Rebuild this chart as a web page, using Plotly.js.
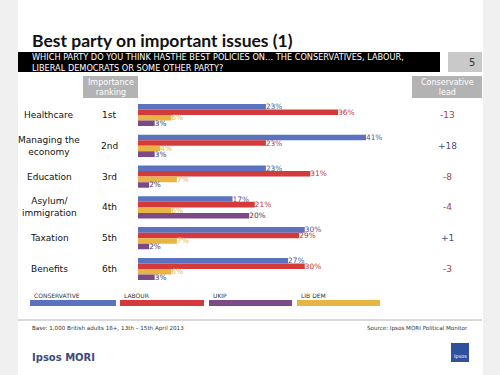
<!DOCTYPE html>
<html>
<head>
<meta charset="utf-8">
<script src="https://cdn.plot.ly/plotly-3.0.1.min.js"></script>
<style>html,body{margin:0;padding:0;background:#f0f0f0;}#chart{width:500px;height:375px;}</style>
</head>
<body>
<div id="chart"></div>
<script>
// ---- data ----
const issues = ["Healthcare", "Managing the<br>economy", "Education", "Asylum/<br>immigration", "Taxation", "Benefits"];
const ranks = ["1st", "2nd", "3rd", "4th", "5th", "6th"];
const conservative = [23, 41, 23, 17, 30, 27];
const labour = [36, 23, 31, 21, 29, 30];
const libdem = [6, 4, 7, 6, 7, 6];
const ukip = [3, 3, 2, 20, 2, 3];
const conLead = ["-13", "+18", "-8", "-4", "+1", "-3"];
const legendNames = ["CONSERVATIVE", "LABOUR", "UKIP", "LIB DEM"];

// ---- styling ----
const W = 500, H = 375;
const px = v => v / W;
const py = v => 1 - v / H;
const FONT = "DejaVu Sans, sans-serif";
const colors = {con: "#5b73bf", lab: "#d43a3a", ld: "#e8b443", ukip: "#7b4a87"};
const txtColors = {con: "#4a5a92", lab: "#c83030", ld: "#e3b54c", ukip: "#3c3c5c"};

function barTrace(name, vals, key) {
  return {
    type: "bar", orientation: "h", name: name,
    x: vals, y: issues,
    marker: {color: colors[key]},
    text: vals.map(v => v + "%"),
    textposition: "outside",
    textfont: {family: FONT, size: 7.4, color: txtColors[key]},
    constraintext: "none",
    cliponaxis: false,
    hoverinfo: "skip"
  };
}

const data = [
  barTrace("Conservative", conservative, "con"),
  barTrace("Labour", labour, "lab"),
  barTrace("Lib Dem", libdem, "ld"),
  barTrace("UKIP", ukip, "ukip")
];

const shapes = [
  {type: "rect", xref: "paper", yref: "paper", x0: px(18), x1: px(483), y0: 0, y1: 1, fillcolor: "#ffffff", line: {width: 0}, layer: "below"},
  {type: "rect", xref: "paper", yref: "paper", x0: px(18), x1: px(440), y0: py(72), y1: py(52), fillcolor: "#000000", line: {width: 0}, layer: "below"},
  {type: "rect", xref: "paper", yref: "paper", x0: px(448), x1: px(482), y0: py(72), y1: py(52), fillcolor: "#c9c9c9", line: {width: 0}, layer: "below"},
  {type: "rect", xref: "paper", yref: "paper", x0: px(83), x1: px(138), y0: py(98), y1: py(76), fillcolor: "#b3b3b3", line: {width: 0}, layer: "below"},
  {type: "rect", xref: "paper", yref: "paper", x0: px(412), x1: px(482), y0: py(98), y1: py(76), fillcolor: "#b3b3b3", line: {width: 0}, layer: "below"},
  {type: "line", xref: "paper", yref: "paper", x0: px(18), x1: px(482), y0: py(320), y1: py(320), line: {color: "#b4b4b4", width: 1}},
  {type: "rect", xref: "paper", yref: "paper", x0: px(451), x1: px(469), y0: py(362), y1: py(343), fillcolor: "#2f4f9f", line: {width: 0}}
];

const legendColors = [colors.con, colors.lab, colors.ukip, colors.ld];
const legendX = [[30, 116], [120, 204], [209, 292], [297, 380]];
legendColors.forEach((c, i) => {
  shapes.push({type: "rect", xref: "paper", yref: "paper", x0: px(legendX[i][0]), x1: px(legendX[i][1]), y0: py(306), y1: py(300), fillcolor: c, line: {width: 0}});
});

const annotations = [
  {xref: "paper", yref: "paper", x: px(30), y: py(40), xanchor: "left", yanchor: "middle", showarrow: false,
   text: "<b>Best party on important issues (1)</b>", font: {family: "Lato, sans-serif", size: 17.5, color: "#111111"}},
  {xref: "paper", yref: "paper", x: px(30), y: py(62), xanchor: "left", yanchor: "middle", showarrow: false, align: "left",
   text: "WHICH PARTY DO YOU THINK HASTHE BEST POLICIES ON… THE CONSERVATIVES, LABOUR,<br>LIBERAL DEMOCRATS OR SOME OTHER PARTY?",
   font: {family: FONT, size: 8.2, color: "#ffffff"}},
  {xref: "paper", yref: "paper", x: px(477), y: py(62), xanchor: "right", yanchor: "middle", showarrow: false,
   text: "5", font: {family: FONT, size: 10, color: "#333333"}},
  {xref: "paper", yref: "paper", x: px(110.5), y: py(87), xanchor: "center", yanchor: "middle", showarrow: false,
   text: "Importance<br>ranking", font: {family: FONT, size: 8, color: "#ffffff"}},
  {xref: "paper", yref: "paper", x: px(447), y: py(87), xanchor: "center", yanchor: "middle", showarrow: false,
   text: "Conservative<br>lead", font: {family: FONT, size: 8, color: "#ffffff"}},
  {xref: "paper", yref: "paper", x: px(30), y: py(328), xanchor: "left", yanchor: "middle", showarrow: false,
   text: "Base: 1,000 British adults 18+, 13th – 15th April 2013", font: {family: FONT, size: 5.6, color: "#333333"}},
  {xref: "paper", yref: "paper", x: px(470), y: py(328), xanchor: "right", yanchor: "middle", showarrow: false,
   text: "Source: Ipsos MORI Political Monitor", font: {family: FONT, size: 5.6, color: "#333333"}},
  {xref: "paper", yref: "paper", x: px(30), y: py(357), xanchor: "left", yanchor: "middle", showarrow: false,
   text: "<b>Ipsos MORI</b>", font: {family: FONT, size: 10, color: "#3d4a7c"}},
  {xref: "paper", yref: "paper", x: px(460), y: py(356), xanchor: "center", yanchor: "middle", showarrow: false,
   text: "Ipsos", font: {family: FONT, size: 5, color: "#ffffff"}}
];

legendNames.forEach((n, i) => {
  annotations.push({xref: "paper", yref: "paper", x: px(legendX[i][0] + 2), y: py(295), xanchor: "left", yanchor: "middle", showarrow: false,
    text: n, font: {family: FONT, size: 6, color: "#333333"}});
});

issues.forEach((iss, i) => {
  annotations.push({xref: "paper", yref: "y", x: px(49), y: iss, xanchor: "center", yanchor: "middle", showarrow: false,
    text: iss, font: {family: FONT, size: 9, color: "#111111"}});
  annotations.push({xref: "paper", yref: "y", x: px(109), y: iss, xanchor: "center", yanchor: "middle", showarrow: false,
    text: ranks[i], font: {family: FONT, size: 9, color: "#111111"}});
  annotations.push({xref: "paper", yref: "y", x: px(447), y: iss, xanchor: "center", yanchor: "middle", showarrow: false,
    text: conLead[i], font: {family: FONT, size: 9, color: conLead[i].startsWith("-") ? "#a84444" : "#44507a"}});
});

const layout = {
  width: W, height: H,
  margin: {l: 0, r: 0, t: 0, b: 0},
  paper_bgcolor: "#f0f0f0",
  plot_bgcolor: "rgba(0,0,0,0)",
  showlegend: false,
  barmode: "group",
  bargap: 0.28,
  bargroupgap: 0,
  xaxis: {domain: [px(138), px(471.6)], range: [0, 60], visible: false, fixedrange: true},
  yaxis: {domain: [py(284.4), py(99.6)], type: "category", autorange: "reversed", visible: false, fixedrange: true},
  shapes: shapes,
  annotations: annotations
};

Plotly.newPlot("chart", data, layout, {displayModeBar: false, staticPlot: true});
</script>
</body>
</html>
